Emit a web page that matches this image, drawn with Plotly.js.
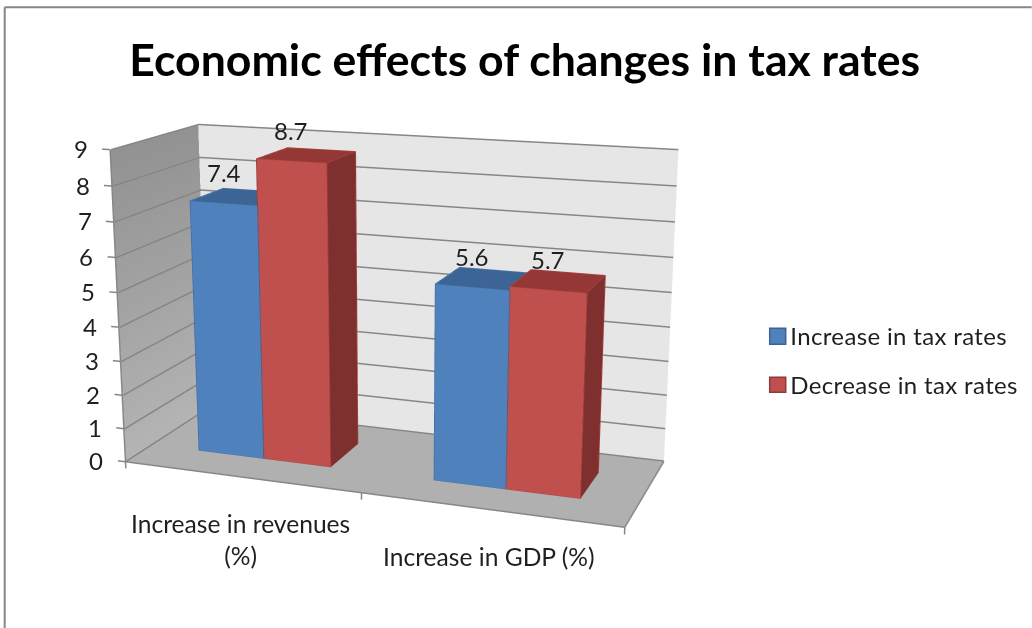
<!DOCTYPE html>
<html><head><meta charset="utf-8">
<script src="https://cdn.plot.ly/plotly-3.0.1.min.js"></script>
<style>html,body{margin:0;padding:0;background:#fff;overflow:hidden}
#frame{position:relative;width:1032px;height:628px;overflow:hidden}#chart{position:absolute}
#chart .annotation text{letter-spacing:0.35px}</style></head>
<body><div id="frame"><div id="chart"></div></div>
<script>
const chartTitle = 'Economic effects of changes in tax rates';
const categories = ['Increase in revenues<br>(%)', 'Increase in GDP (%)'];
const seriesNames = ['Increase in tax rates', 'Decrease in tax rates'];
const increaseInTaxRates = [7.4, 5.6];
const decreaseInTaxRates = [8.7, 5.7];
const valueTicks = [0,1,2,3,4,5,6,7,8,9];

// Camera: the scene is drawn larger than the page and cropped,
// which narrows the fixed 45 degree field of view of the 3D scene.
const eye = {x:1.0241, y:-2.8005, z:0.7710}, lookAt = {x:0.6009, y:-1.6282, z:0.4227};
const boxAspect = {x:1, y:0.3629, z:0.6195};
const sceneW = 1264, sceneH = 1326.2, lensX = 401.3, lensY = 340.7;
const offX = lensX - sceneW/2, offY = lensY - sceneH/2;
const el = document.getElementById('chart');
el.style.width = sceneW+'px'; el.style.height = sceneH+'px';
el.style.left = offX+'px'; el.style.top = offY+'px';
const px = x => (x-offX)/sceneW, py = y => 1-(y-offY)/sceneH;

// Axis padding leaves room for tick marks outside the plot box
const padX = 0.04, padZ = 0.25;
const catSpan = categories.length, maxValue = valueTicks[valueTicks.length-1];

const flat = {ambient:1, diffuse:0, specular:0, fresnel:0, roughness:1};
function box(x0,x1,y0,y1,z0,z1,front,side,top){
  const x=[x0,x1,x1,x0,x0,x1,x1,x0], y=[y0,y0,y1,y1,y0,y0,y1,y1], z=[z0,z0,z0,z0,z1,z1,z1,z1];
  const i=[0,0,1,1,4,4,3,3,0,0,2,2], j=[1,5,2,6,5,6,7,4,3,7,6,7], k=[5,4,6,5,6,7,4,0,7,4,7,3];
  return {type:'mesh3d',x,y,z,i,j,k,flatshading:true,lighting:flat,hoverinfo:'skip',
    facecolor:[front,front,side,side,top,top,side,side,front,front,front,front]};
}
function boxEdges(x0,x1,y0,y1,z0,z1,color){
  const e=1e-3, X0=x0-e, X1=x1+e, Y0=y0-e, Y1=y1+e, Z1=z1+0.01;
  return {type:'scatter3d',mode:'lines',hoverinfo:'skip',line:{color,width:1.5},
    x:[X0,X1,null,X0,X0,null,X1,X1,null,X0,X1,null,X1,X1,null,X1,X1,null,X0,X0,X1,X1],
    y:[Y0,Y0,null,Y0,Y0,null,Y0,Y0,null,Y0,Y0,null,Y0,Y1,null,Y0,Y1,null,Y0,Y1,Y1,Y1],
    z:[0,0,null,0,Z1,null,0,Z1,null,Z1,Z1,null,0,0,null,Z1,Z1,null,Z1,Z1,Z1,0]};
}
function wall(x,y,z,vertexcolor){
  return {type:'mesh3d',x,y,z,i:[0,0],j:[1,2],k:[2,3],vertexcolor,flatshading:true,lighting:flat,hoverinfo:'skip'};
}
const traces = [
  wall([0,catSpan,catSpan,0],[0,0,1,1],[0,0,0,0],Array(4).fill('#b0b0b0')),
  wall([0,catSpan,catSpan,0],[1,1,1,1],[0,0,maxValue,maxValue],Array(4).fill('#e6e6e6')),
  wall([0,0,0,0],[0,1,1,0],[0,0,maxValue,maxValue],['#b4b4b4','#b4b4b4','#929292','#929292'])
];

// Gridlines run along the left and back walls, inset a hair to stay above the wall faces
const lineColor = '#868686', inset = 0.004;
const grid = {x:[],y:[],z:[]};
valueTicks.forEach(v=>{
  const zv = Math.max(v, 0.02);
  grid.x.push(inset,inset,catSpan,null);
  grid.y.push(0,1-inset,1-inset,null);
  grid.z.push(zv,zv,zv,null);
});
traces.push({type:'scatter3d',mode:'lines',hoverinfo:'skip',line:{color:lineColor,width:3},...grid});

// Box edges and outward tick marks
const rule = {x:[],y:[],z:[]};
rule.x.push(0,0,null,0,catSpan,catSpan,null); rule.y.push(0,0,null,0,0,1,null); rule.z.push(maxValue,0,null,0,0,0,null);
valueTicks.forEach(v=>{ rule.x.push(0,-padX*0.85,null); rule.y.push(0,0,null); rule.z.push(v,v,null); });
[0,1,2].forEach(c=>{ rule.x.push(c,c,null); rule.y.push(0,0,null); rule.z.push(0,-padZ*0.8,null); });
traces.push({type:'scatter3d',mode:'lines',hoverinfo:'skip',line:{color:lineColor,width:3},...rule});

const barW = 0.2857, start = 0.2143, frontY = 0.3, backY = 0.7;
categories.forEach((_,c)=>{
  const a=c+start, b=a+barW, d=b+barW;
  traces.push(box(a,b,frontY,backY,0,increaseInTaxRates[c],'#4f81bd','#3f6797','#3c6494'));
  traces.push(boxEdges(a,b,frontY,backY,0,increaseInTaxRates[c],'#41709f'));
  traces.push(box(b,d,frontY,backY,0,decreaseInTaxRates[c],'#c0504d','#7d302e','#943735'));
  traces.push(boxEdges(b,d,frontY,backY,0,decreaseInTaxRates[c],'#a5403e'));
});

const bodyFont = {family:'Lato, sans-serif', size:24, color:'#1f1f1f'};
const categoryFont = {family:'Lato, sans-serif', size:24.6, color:'#1f1f1f'};
const sceneLabels = [];
valueTicks.forEach(v=>sceneLabels.push({x:0,y:0,z:v,text:String(v),showarrow:false,xanchor:'right',yanchor:'middle',xshift:-20,yshift:1,font:bodyFont}));
categories.forEach((c,i)=>sceneLabels.push({x:i+0.5,y:0,z:0,text:c,showarrow:false,xanchor:'center',yanchor:'top',yshift:-30,font:categoryFont}));
[increaseInTaxRates,decreaseInTaxRates].forEach((vals,s)=>vals.forEach((v,c)=>sceneLabels.push({
  x:c+start+barW*(s+0.5),y:frontY,z:v,text:v.toFixed(1),showarrow:false,xanchor:'center',yanchor:'middle',yshift:31,font:bodyFont})));

// Outer border and legend, placed in page pixels
const paperLine = (x0,y0,x1,y1)=>({type:'line',xref:'paper',yref:'paper',x0:px(x0),x1:px(x1),y0:py(y0),y1:py(y1),line:{color:lineColor,width:2}});
const shapes = [paperLine(5,7,1032,7), paperLine(5,7,5,628)];
[['#4f81bd','#3a6494',328,344],['#c0504d','#8f3a38',377,392]].forEach(s=>shapes.push({type:'rect',xref:'paper',yref:'paper',
  x0:px(770),x1:px(786),y0:py(s[2]),y1:py(s[3]),fillcolor:s[0],line:{color:s[1],width:1.5}}));
const annotations = seriesNames.map((n,i)=>({xref:'paper',yref:'paper',x:px(792),y:py(i?384:335),text:n,showarrow:false,xanchor:'left',yanchor:'middle',font:bodyFont}));

const hiddenAxis = r=>({range:r,showgrid:false,zeroline:false,showline:false,showticklabels:false,ticks:'',showbackground:false,showspikes:false,title:{text:''}});
const layout = {width:sceneW,height:sceneH,margin:{l:0,r:0,t:0,b:0},paper_bgcolor:'#fff',showlegend:false,shapes,annotations,
  title:{text:chartTitle,x:px(525),y:py(60),xref:'paper',yref:'paper',xanchor:'center',yanchor:'middle',font:{family:'Lato, sans-serif',size:44.6,weight:700,color:'#000'}},
  scene:{domain:{x:[0,1],y:[0,1]},aspectmode:'manual',
    aspectratio:{x:boxAspect.x*(catSpan+2*padX)/catSpan,y:boxAspect.y,z:boxAspect.z*(maxValue+2*padZ)/maxValue},
    camera:{eye,center:lookAt,up:{x:0,y:0,z:1},projection:{type:'perspective'}},
    annotations:sceneLabels,
    xaxis:hiddenAxis([-padX,catSpan+padX]),yaxis:hiddenAxis([0,1]),zaxis:hiddenAxis([-padZ,maxValue+padZ])}
};
Plotly.newPlot('chart',traces,layout,{displayModeBar:false});
</script></body></html>
